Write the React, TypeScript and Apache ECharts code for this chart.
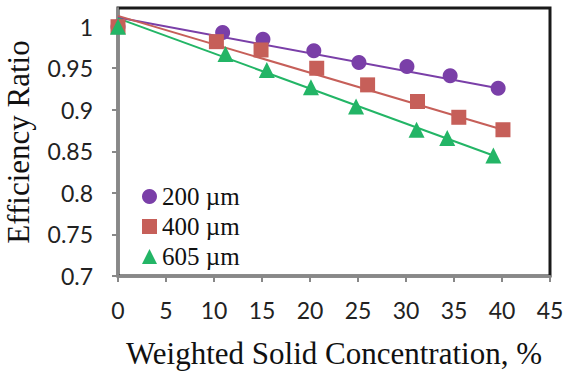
import React, { useEffect, useRef } from "react";
import * as echarts from "echarts";

const series200: [number, number][] = [
  [0, 1.0], [10.9, 0.993], [15.1, 0.985], [20.4, 0.971], [25.1, 0.957], [30.1, 0.952], [34.6, 0.941], [39.6, 0.926],
];
const series400: [number, number][] = [
  [0, 1.0], [10.25, 0.982], [14.9, 0.972], [20.7, 0.95], [26.0, 0.93], [31.2, 0.91], [35.5, 0.891], [40.1, 0.876],
];
const series605: [number, number][] = [
  [0, 1.0], [11.2, 0.967], [15.5, 0.948], [20.1, 0.927], [24.8, 0.904], [31.1, 0.876], [34.3, 0.866], [39.1, 0.845],
];
const trend200: [number, number][] = [[0, 1.011], [39.6, 0.926]];
const trend400: [number, number][] = [[0, 1.013], [40.1, 0.876]];
const trend605: [number, number][] = [[0, 1.01], [39.1, 0.845]];
const yTicks = [0.7, 0.75, 0.8, 0.85, 0.9, 0.95, 1];
const seriesNames = ["200 µm", "400 µm", "605 µm"];

const PURPLE = "#7a3fa8";
const RED = "#c65f59";
const GREEN = "#23b566";

export default function App() {
  const ref = useRef<HTMLDivElement>(null);
  useEffect(() => {
    document.body.style.margin = "0";
    const chart = echarts.init(ref.current!, undefined, { renderer: "svg" });
    const serif = "'Liberation Serif', 'DejaVu Serif', serif";
    const sans = "Lato, 'Noto Sans', sans-serif";
    chart.setOption({
      animation: false,
      backgroundColor: "#ffffff",
      grid: {
        left: 118, right: 13, top: 8, bottom: 95,
        outerBoundsMode: "none",
        containLabel: false,
        show: true, borderColor: "#1a1a1a", borderWidth: 3, backgroundColor: "transparent",
      },
      legend: {
        data: seriesNames.map((n) => ({ name: n })),
        orient: "vertical",
        left: 137,
        top: 179,
        itemWidth: 15,
        itemHeight: 15,
        itemGap: 5,
        textStyle: { fontFamily: serif, fontSize: 25, color: "#111" },
      },
      xAxis: {
        type: "value",
        min: 0, max: 45, interval: 5,
        name: "Weighted Solid Concentration, %",
        nameLocation: "middle",
        nameGap: 62,
        nameTextStyle: { fontFamily: serif, fontSize: 31, color: "#111" },
        axisLine: { show: true, lineStyle: { color: "#888", width: 2 } },
        axisTick: { show: true, inside: false, length: 6, lineStyle: { color: "#888", width: 2 } },
        axisLabel: { fontFamily: sans, fontSize: 23, color: "#222", margin: 22 },
        splitLine: { show: false },
      },
      yAxis: {
        type: "value",
        min: 0.7, max: 1.0225, interval: 0.05,
        name: "Efficiency Ratio",
        nameLocation: "middle",
        nameGap: 84,
        nameTextStyle: { fontFamily: serif, fontSize: 31, color: "#111" },
        axisLine: { show: true, lineStyle: { color: "#888", width: 2 } },
        axisTick: { show: true, inside: false, length: 6, lineStyle: { color: "#888", width: 2 }, customValues: yTicks },
        axisLabel: {
          fontFamily: sans, fontSize: 23, color: "#222", margin: 25,
          customValues: yTicks,
          formatter: (v: number) => String(parseFloat(v.toFixed(3))),
        },
        splitLine: { show: false },
      },
      series: [
        { name: "t200", type: "line", data: trend200, symbol: "none", lineStyle: { color: PURPLE, width: 2 }, z: 2 },
        { name: "t400", type: "line", data: trend400, symbol: "none", lineStyle: { color: RED, width: 2 }, z: 2 },
        { name: "t605", type: "line", data: trend605, symbol: "none", lineStyle: { color: GREEN, width: 2 }, z: 2 },
        { name: seriesNames[0], type: "scatter", data: series200, symbol: "circle", symbolSize: 15, itemStyle: { color: PURPLE, opacity: 1 }, z: 3 },
        { name: seriesNames[1], type: "scatter", data: series400, symbol: "rect", symbolSize: 15, itemStyle: { color: RED, opacity: 1 }, z: 4 },
        { name: seriesNames[2], type: "scatter", data: series605, symbol: "triangle", symbolSize: 16, itemStyle: { color: GREEN, opacity: 1 }, z: 5 },
      ],
    });
    return () => chart.dispose();
  }, []);
  return <div ref={ref} style={{ width: 563, height: 371 }} />;
}
